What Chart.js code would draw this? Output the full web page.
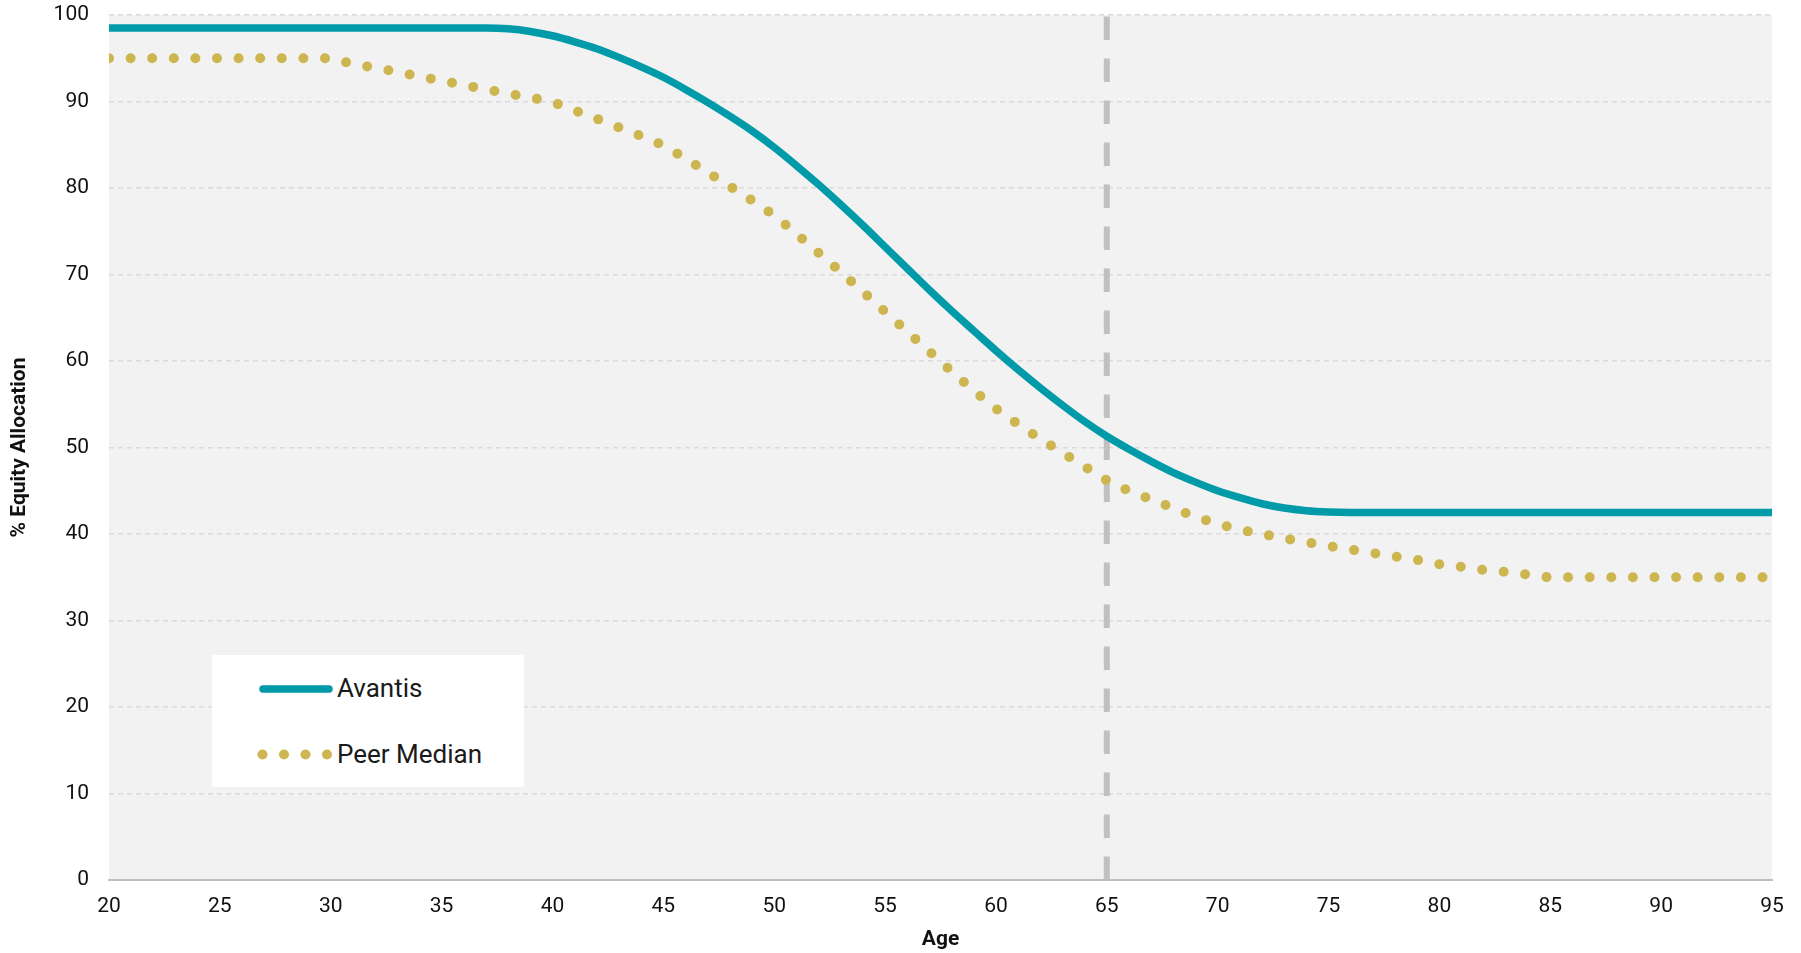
<!DOCTYPE html>
<html>
<head>
<meta charset="utf-8">
<title>% Equity Allocation by Age</title>
<script src="https://cdn.jsdelivr.net/npm/chart.js@4.4.1/dist/chart.umd.min.js"></script>
<style>
  html, body { margin: 0; padding: 0; background: #ffffff; }
  #wrap { position: relative; width: 1801px; height: 953px; }
  #chart { position: absolute; left: 0; top: 0; }
  #legend {
    position: absolute; left: 212px; top: 655px; width: 312px; height: 132px;
    background: #ffffff; font-family: Roboto, "Noto Sans", sans-serif; color: #1a1a1a;
  }
  #legend .label { position: absolute; left: 125px; font-size: 26px; line-height: 26px; white-space: nowrap; }
  #legend svg { position: absolute; left: 0; top: 0; }
</style>
</head>
<body>
<div id="wrap">
  <canvas id="chart" width="1801" height="953"></canvas>
  <div id="legend"></div>
</div>
<script>
// Glide path: equity allocation (%) by age
const ages = [20, 21, 22, 23, 24, 25, 26, 27, 28, 29, 30, 31, 32, 33, 34, 35, 36, 37, 38, 39,
              40, 41, 42, 43, 44, 45, 46, 47, 48, 49, 50, 51, 52, 53, 54, 55, 56, 57, 58, 59,
              60, 61, 62, 63, 64, 65, 66, 67, 68, 69, 70, 71, 72, 73, 74, 75, 76, 77, 78, 79,
              80, 81, 82, 83, 84, 85, 86, 87, 88, 89, 90, 91, 92, 93, 94, 95];

const avantis = [98.5, 98.5, 98.5, 98.5, 98.5, 98.5, 98.5, 98.5, 98.5, 98.5,
                 98.5, 98.5, 98.5, 98.5, 98.5, 98.5, 98.5, 98.5, 98.4, 98.1,
                 97.6, 96.9, 96.1, 95.1, 94.0, 92.8, 91.4, 89.9, 88.3, 86.6,
                 84.7, 82.6, 80.4, 78.1, 75.7, 73.2, 70.7, 68.2, 65.8, 63.5,
                 61.2, 59.0, 56.9, 54.9, 53.0, 51.3, 49.8, 48.4, 47.1, 46.0,
                 45.0, 44.2, 43.5, 43.0, 42.7, 42.55, 42.5, 42.5, 42.5, 42.5,
                 42.5, 42.5, 42.5, 42.5, 42.5, 42.5, 42.5, 42.5, 42.5, 42.5,
                 42.5, 42.5, 42.5, 42.5, 42.5, 42.5];

const peerMedian = [95.0, 95.0, 95.0, 95.0, 95.0, 95.0, 95.0, 95.0, 95.0, 95.0,
                    95.0, 94.3, 93.9, 93.4, 92.9, 92.4, 91.9, 91.4, 90.9, 90.45,
                    89.9, 88.95, 88.0, 87.0, 86.0, 84.9, 83.4, 81.8, 80.2, 78.55,
                    76.8, 74.7, 72.5, 70.3, 68.0, 65.7, 63.4, 61.1, 58.8, 56.6,
                    54.5, 52.7, 51.0, 49.4, 47.8, 46.2, 45.0, 44.0, 43.0, 42.0,
                    41.2, 40.5, 40.0, 39.5, 39.05, 38.6, 38.2, 37.8, 37.4, 37.0,
                    36.5, 36.2, 35.85, 35.6, 35.3, 35.0, 35.0, 35.0, 35.0, 35.0,
                    35.0, 35.0, 35.0, 35.0, 35.0, 35.0];

const retirementAge = 65;
const xTickValues = [20, 25, 30, 35, 40, 45, 50, 55, 60, 65, 70, 75, 80, 85, 90, 95];
const yTickValues = [0, 10, 20, 30, 40, 50, 60, 70, 80, 90, 100];

const seriesNames = ['Avantis', 'Peer Median'];
const TEAL = '#009aa8';
const GOLD = '#cdb550';
const FONT = 'Roboto, "Noto Sans", sans-serif';

const toPoints = (vals) => ages.map((a, i) => ({ x: a, y: vals[i] }));

// shaded plot background
const plotBackground = {
  id: 'plotBackground',
  beforeDraw(chart) {
    const { ctx, chartArea: a } = chart;
    ctx.save();
    ctx.fillStyle = '#f2f2f2';
    ctx.fillRect(a.left, a.top, a.right - a.left, a.bottom - a.top);
    ctx.restore();
  }
};

new Chart(document.getElementById('chart'), {
  type: 'line',
  data: {
    datasets: [
      {
        label: seriesNames[0],
        data: toPoints(avantis),
        borderColor: TEAL,
        borderWidth: 7.5,
        borderCapStyle: 'round',
        borderJoinStyle: 'round',
        cubicInterpolationMode: 'monotone',
        tension: 0.4,
        pointRadius: 0,
        order: 2
      },
      {
        label: seriesNames[1],
        data: toPoints(peerMedian),
        borderColor: GOLD,
        borderWidth: 10,
        borderDash: [0, 21.6],
        borderCapStyle: 'round',
        cubicInterpolationMode: 'monotone',
        tension: 0.4,
        pointRadius: 0,
        order: 1
      },
      {
        label: 'Retirement',
        data: [{ x: retirementAge, y: yTickValues[0] }, { x: retirementAge, y: yTickValues[yTickValues.length - 1] }],
        borderColor: '#c0c0c0',
        borderWidth: 6,
        borderDash: [23.5, 18.5],
        borderCapStyle: 'butt',
        pointRadius: 0,
        order: 3
      }
    ]
  },
  options: {
    responsive: false,
    animation: false,
    devicePixelRatio: 1,
    layout: { padding: { top: 15, right: 29, left: 0, bottom: 0 } },
    plugins: {
      legend: { display: false },
      tooltip: { enabled: false }
    },
    scales: {
      x: {
        type: 'linear',
        min: 20,
        max: 95,
        afterBuildTicks: (scale) => { scale.ticks = xTickValues.map(v => ({ value: v })); },
        afterFit: (scale) => { scale.height = 73; scale.paddingLeft = 0; scale.paddingRight = 0; },
        grid: { display: false, drawTicks: false },
        border: { display: true, color: '#bfbfbf', width: 2 },
        ticks: { autoSkip: false, maxRotation: 0, padding: 14, color: '#111', font: { family: FONT, size: 21 } },
        title: { display: true, text: 'Age', color: '#111', padding: { top: 0, bottom: 1 }, font: { family: FONT, size: 21, weight: 'bold' } }
      },
      y: {
        min: 0,
        max: 100,
        afterBuildTicks: (scale) => { scale.ticks = yTickValues.map(v => ({ value: v })); },
        afterFit: (scale) => { scale.width = 109; scale.paddingTop = 0; scale.paddingBottom = 0; },
        grid: { color: '#dadada', lineWidth: 1.5, drawTicks: false },
        border: { display: false, dash: [5, 4] },
        ticks: { padding: 20, color: '#111', font: { family: FONT, size: 21 } },
        title: { display: true, text: '% Equity Allocation', color: '#111', padding: { top: 7, bottom: 0 }, font: { family: FONT, size: 21, weight: 'bold' } }
      }
    }
  },
  plugins: [plotBackground]
});

// legend box with series samples
(function buildLegend() {
  const box = document.getElementById('legend');
  const ns = 'http://www.w3.org/2000/svg';
  const svg = document.createElementNS(ns, 'svg');
  svg.setAttribute('width', '312');
  svg.setAttribute('height', '132');
  const line = document.createElementNS(ns, 'line');
  line.setAttribute('x1', '51'); line.setAttribute('x2', '117');
  line.setAttribute('y1', '34'); line.setAttribute('y2', '34');
  line.setAttribute('stroke', TEAL); line.setAttribute('stroke-width', '7.5');
  line.setAttribute('stroke-linecap', 'round');
  svg.appendChild(line);
  [50.5, 72, 93.5, 115].forEach(cx => {
    const c = document.createElementNS(ns, 'circle');
    c.setAttribute('cx', cx); c.setAttribute('cy', '99.5'); c.setAttribute('r', '5');
    c.setAttribute('fill', GOLD);
    svg.appendChild(c);
  });
  box.appendChild(svg);
  [[seriesNames[0], 20], [seriesNames[1], 85.5]].forEach(([text, top]) => {
    const s = document.createElement('span');
    s.className = 'label';
    s.style.top = top + 'px';
    s.textContent = text;
    box.appendChild(s);
  });
})();
</script>
</body>
</html>
